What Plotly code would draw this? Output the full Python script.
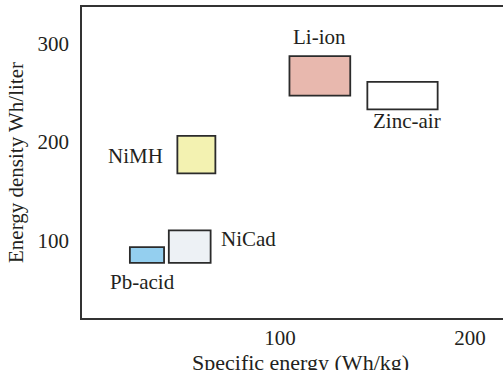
import plotly.graph_objects as go

# Battery chemistries: specific energy (Wh/kg) and energy density (Wh/liter) ranges
names = ["Pb-acid", "NiCad", "NiMH", "Li-ion", "Zinc-air"]
x_low = [21, 41.5, 46, 105, 146]
x_high = [39, 63.5, 66, 137, 183]
y_low = [77, 77, 168, 247, 233]
y_high = [93, 110, 206, 287, 261]
fills = ["#94cfef", "#edf1f5", "#f3f2b1", "#e8b8ae", "#ffffff"]

label_x = [27.5, 83.5, 24, 121, 167]
label_y = [58, 101, 186, 307, 221]

x_ticks = [100, 200]
y_ticks = [100, 200, 300]

x_title = "Specific energy (Wh/kg)"
y_title = "Energy density Wh/liter"

FONT = "'Liberation Serif', 'Times New Roman', serif"
TXT = "#231f20"

fig = go.Figure()

for i, n in enumerate(names):
    fig.add_shape(type="rect", xref="x", yref="y",
                  x0=x_low[i], x1=x_high[i], y0=y_low[i], y1=y_high[i],
                  fillcolor=fills[i], line=dict(color="#2b2b2b", width=1.8),
                  layer="above")
    fig.add_annotation(x=label_x[i], y=label_y[i], text=n, showarrow=False,
                       xref="x", yref="y", xanchor="center", yanchor="middle",
                       font=dict(family=FONT, size=21, color=TXT))

# x-axis title, sitting low so that it is clipped at the bottom edge like the original
fig.add_annotation(x=0.52, y=-0.142, xref="paper", yref="paper", text=x_title,
                   showarrow=False, xanchor="center", yanchor="middle",
                   font=dict(family=FONT, size=22, color=TXT))

# invisible trace to establish axes
fig.add_trace(go.Scatter(x=[x_low[0]], y=[y_low[0]], mode="markers",
                         marker=dict(opacity=0), hoverinfo="skip", showlegend=False))

fig.update_layout(
    width=503, height=370,
    margin=dict(l=82, r=0, t=7, b=52),
    paper_bgcolor="white", plot_bgcolor="white",
    showlegend=False,
    font=dict(family=FONT, size=21, color=TXT),
)
fig.update_xaxes(
    range=[-4.2, 217.4], tickvals=x_ticks, showgrid=False, zeroline=False,
    showline=True, mirror=True, linecolor="#333333", linewidth=1.5,
    ticks="", ticklabelstandoff=0,
    tickfont=dict(family=FONT, size=21, color=TXT),
    automargin=False, fixedrange=True,
)
fig.update_yaxes(
    range=[21, 337], tickvals=y_ticks, showgrid=False, zeroline=False,
    showline=True, mirror=False, linecolor="#333333", linewidth=1.5,
    ticks="", ticklabelstandoff=7,
    tickfont=dict(family=FONT, size=21, color=TXT),
    title=dict(text=y_title, standoff=8,
               font=dict(family=FONT, size=21, color=TXT)),
    automargin=False, fixedrange=True,
)

fig.write_html("out.html", config={"displayModeBar": False},
               post_script="document.body.style.margin='0';")
